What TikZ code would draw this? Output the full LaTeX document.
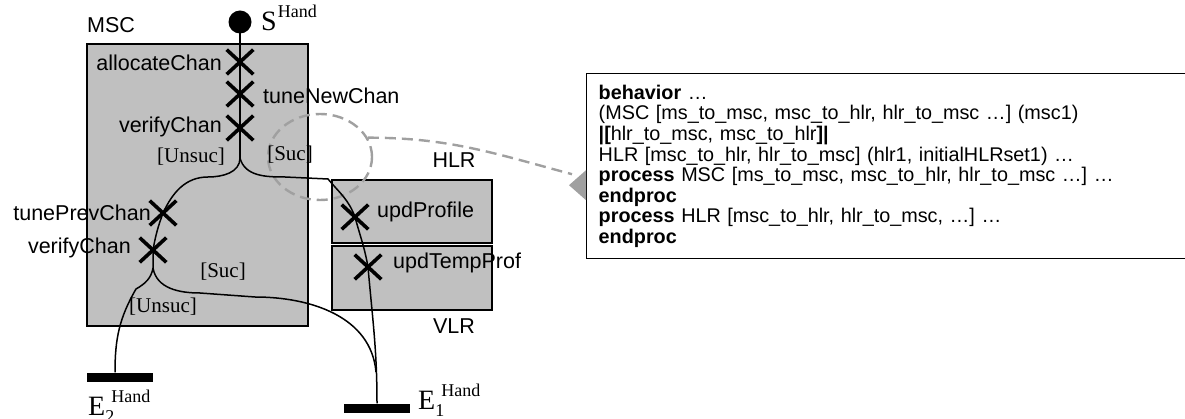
\documentclass[tikz,border=0pt]{standalone}
\usepackage{fontspec}
\setmainfont{Liberation Sans}
\newfontfamily\tms{Liberation Serif}
\usetikzlibrary{calc,shapes.misc,shapes.geometric,positioning}
\definecolor{boxgray}{HTML}{C0C0C0}
\definecolor{dashgray}{HTML}{A0A0A0}
\tikzset{>=stealth}
\tikzset{
  comp/.style={draw, line width=1.6pt, fill=boxgray, inner sep=0pt},
  act/.style={cross out, draw, line width=3.6pt, minimum width=23pt, minimum height=21pt, inner sep=0pt},
  lbl/.style={font=\fontsize{21.5}{21.5}\selectfont, inner sep=0pt},
  grd/.style={font=\tms\fontsize{21}{21}\selectfont, inner sep=0pt},
  flow/.style={line width=1.5pt},
  startdot/.style={circle, fill=black, minimum size=23pt, inner sep=0pt},
  endbar/.style={fill=black, minimum width=66pt, minimum height=9pt, inner sep=0pt},
  hint/.style={draw=dashgray, line width=2.4pt, dash pattern=on 11pt off 6pt},
  codebox/.style={draw, line width=1.4pt, fill=white, anchor=north west, text width=600pt,
    align=left, inner xsep=12pt, minimum height=185pt, font=\fontsize{19.8}{20.6}\selectfont}
}
\newcommand{\handlbl}[3][6pt]{{\tms\fontsize{28}{28}\selectfont #2}{\tms\fontsize{18}{18}\selectfont\rlap{\raisebox{-7pt}{#3}}\raisebox{13pt}{\kern#1 Hand}}}

\begin{document}
\begin{tikzpicture}[x=1pt,y=-1pt]
\useasboundingbox (0,0) rectangle (1185,419);
% components
\node[comp, anchor=north west, minimum width=221pt, minimum height=282pt] (msc) at (86,43) {};
\node[comp, anchor=north west, minimum width=160pt, minimum height=63pt] (hlr) at (331,179) {};
\node[comp, anchor=north west, minimum width=160pt, minimum height=64pt] (vlr) at (331,245) {};
\node[lbl, anchor=west] (msclbl) at (87,25) {MSC};
\node[lbl] (hlrlbl) at (454,160) {HLR};
\node[lbl] (vlrlbl) at (454,326) {VLR};
% focus
\node[ellipse, hint, minimum width=104pt, minimum height=86pt] (focus) at (320,157) {};
% start and ends
\node[startdot] (s) at (240,22) {};
\node[anchor=base west, inner sep=0pt] (slbl) at (261,31) {\handlbl[1pt]{S}{}};
\node[endbar] (e2) at (120,377) {};
\node[endbar] (e1) at (377,408) {};
\node[anchor=base west, inner sep=0pt] (e2lbl) at (88,415) {\handlbl{E}{2}};
\node[anchor=base west, inner sep=0pt] (e1lbl) at (418,409) {\handlbl{E}{1}};
% actions
\node[act] (ac) at (240,62) {};
\node[act] (tn) at (240,94) {};
\node[act] (vc) at (240,128) {};
\node[act] (tp) at (163,213) {};
\node[act] (vc2) at (153,250) {};
\node[act] (up) at (355,217) {};
\node[act] (ut) at (368,267) {};
\coordinate (sp1) at (240,158);
\coordinate (sp2) at (153,268);
\coordinate (e1join) at (376,372);
% flow
\draw[flow] (s.center) -- (ac.center) -- (tn.center) -- (vc.center) -- (sp1);
\draw[flow] (sp1) to[out=-90,in=0] (208,177) to[out=180,in=65] (tp.center)
  to[out=-110,in=80] (vc2.center) -- (sp2);
\draw[flow] (sp1) to[out=-75,in=180] (285,177) -- (328,179)
  to[out=-50,in=110] (up.center) to[out=-75,in=100] (ut.center) to[out=-85,in=90] (e1.north);
\draw[flow] (sp2) to[out=-100,in=30] (136,289) to[out=-120,in=90] ($(e2.north)+(-5,0)$);
\draw[flow] (sp2) to[out=-80,in=180] (200,293) -- (255,297) to[out=0,in=95] (e1join);
% labels
\node[lbl, anchor=east] (aclbl) at (222,63) {allocateChan};
\node[lbl, anchor=west] (tnlbl) at (263,96) {tuneNewChan};
\node[lbl, anchor=east] (vclbl) at (222,127) {verifyChan};
\node[lbl, anchor=east] (tplbl) at (151,213) {tunePrevChan};
\node[lbl, anchor=east] (vc2lbl) at (131,248) {verifyChan};
\node[lbl, anchor=west] (uplbl) at (377,212) {updProfile};
\node[lbl, anchor=west] (utlbl) at (393,263) {updTempProf};
\node[grd] (g1) at (191,157) {[Unsuc]};
\node[grd] (g2) at (290,155) {[Suc]};
\node[grd] (g3) at (223,272) {[Suc]};
\node[grd] (g4) at (163,307) {[Unsuc]};
% specification
\node[codebox] (code) at (586,73) {\textbf{behavior} …\\
(MSC [ms\_to\_msc, msc\_to\_hlr, hlr\_to\_msc …] (msc1)\\
\textbf{|[}hlr\_to\_msc, msc\_to\_hlr\textbf{]|}\\
HLR [msc\_to\_hlr, hlr\_to\_msc] (hlr1, initialHLRset1) …\\
\textbf{process} MSC [ms\_to\_msc, msc\_to\_hlr, hlr\_to\_msc …] …\\
\textbf{endproc}\\
\textbf{process} HLR [msc\_to\_hlr, hlr\_to\_msc, …] …\\
\textbf{endproc}};
\draw[hint] (focus.22) to[out=0,in=165] ([xshift=-14pt,yshift=-8pt]code.west);
\fill[dashgray] ([yshift=-4pt]code.west) -- ([xshift=-17pt,yshift=-19pt]code.west)
  -- ([yshift=-34pt]code.west) -- cycle;
\end{tikzpicture}
\end{document}
